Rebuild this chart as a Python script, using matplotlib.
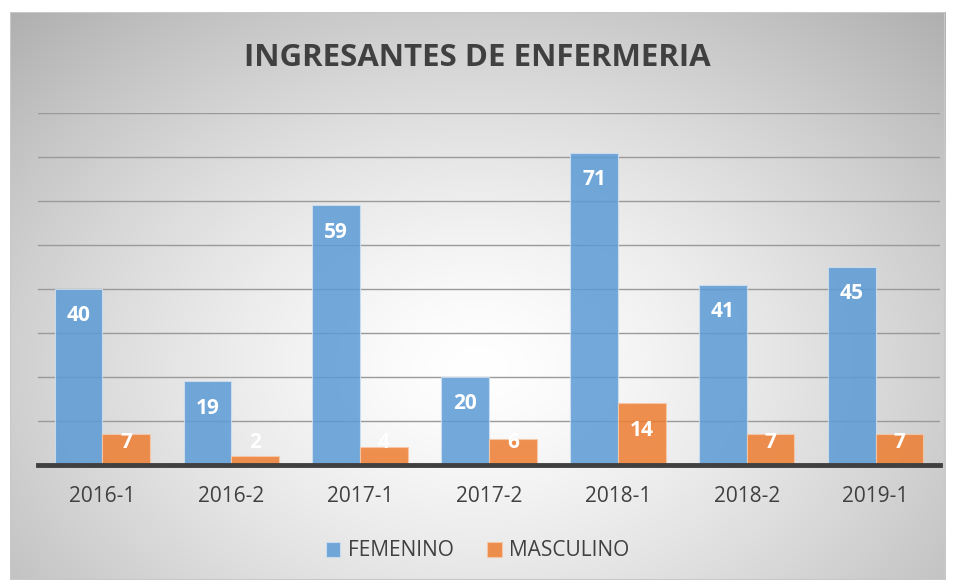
import numpy as np
import matplotlib.pyplot as plt
from matplotlib.patches import Rectangle

categories = ["2016-1", "2016-2", "2017-1", "2017-2", "2018-1", "2018-2", "2019-1"]
femenino = [40, 19, 59, 20, 71, 41, 45]
masculino = [7, 2, 4, 6, 14, 7, 7]

BLUE = "#5B9BD5"
ORANGE = "#ED7D31"
TXT = "#404040"
plt.rcParams["font.family"] = ["Open Sans", "DejaVu Sans"]

W, H = 955, 583
fig = plt.figure(figsize=(W / 100, H / 100), dpi=100)

# radial gradient background inside the chart frame (white centre, grey edges)
x0, y0, x1, y1 = 10, 12, 945, 580
bg = fig.add_axes([x0 / W, 1 - y1 / H, (x1 - x0) / W, (y1 - y0) / H])
gx, gy = np.meshgrid(np.linspace(-1, 1, 400), np.linspace(-1, 1, 250))
r = np.sqrt((gx * 0.95) ** 2 + ((gy - 0.25) * 0.8) ** 2)
shade = 1.0 - 0.2 * np.clip(r, 0, 1.4) ** 1.4
bg.imshow(np.dstack([shade] * 3), aspect="auto", extent=[0, 1, 0, 1])
bg.add_patch(Rectangle((0, 0), 1, 1, fill=False, ec="#c8c8c8", lw=1.5, transform=bg.transAxes))
bg.set_axis_off()

ax = fig.add_axes([38 / W, 1 - 465 / H, (940 - 38) / W, (465 - 113) / H])
ax.patch.set_alpha(0)
x = np.arange(len(categories))
bw = 0.37
b1 = ax.bar(x - bw / 2, femenino, bw, color=BLUE, alpha=0.85, ec="#cfe0f0", lw=0.8, zorder=3, label="FEMENINO")
b2 = ax.bar(x + bw / 2, masculino, bw, color=ORANGE, alpha=0.85, ec="#f6c9a8", lw=0.8, zorder=3, label="MASCULINO")

for bars in (b1, b2):
    for rect in bars:
        v = rect.get_height()
        # inside-end label, but never pushed lower than a minimum height
        ax.text(rect.get_x() + rect.get_width() / 2, max(v - 6.1, 5.2), f"{v:g}",
                ha="center", va="center", color="white", fontsize=15,
                fontweight="bold", zorder=5)

ax.set_xlim(-0.5, len(categories) - 0.5)
ax.set_ylim(0, 80)
ax.set_yticks(np.arange(10, 81, 10))
ax.yaxis.grid(True, color="#9a9a9a", lw=1, zorder=4)
ax.tick_params(axis="y", left=False, labelleft=False)
ax.set_xticks(x)
ax.set_xticklabels(categories, fontsize=15, color=TXT)
ax.tick_params(axis="x", length=0, pad=15)
for s in ("top", "right", "left"):
    ax.spines[s].set_visible(False)
ax.spines["bottom"].set_color("#404040")
ax.spines["bottom"].set_linewidth(3.5)
ax.spines["bottom"].set_zorder(6)

fig.text(0.5, 1 - 58 / H, "INGRESANTES DE ENFERMERIA", ha="center", va="center",
         fontsize=22.5, fontweight="bold", color=TXT)
fig.legend(handles=[b1, b2], loc="center", bbox_to_anchor=(0.5, 1 - 551 / H), ncol=2,
           frameon=False, fontsize=15, labelcolor=TXT, handlelength=0.7, handleheight=0.7,
           handletextpad=0.35, columnspacing=1.6)

fig.savefig("out.png", dpi=100)
